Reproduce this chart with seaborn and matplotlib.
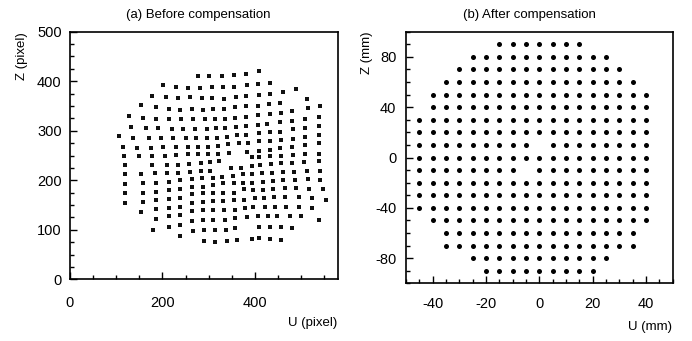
import matplotlib
matplotlib.use("Agg")
import matplotlib.pyplot as plt
from matplotlib.ticker import MultipleLocator
import numpy as np
import pandas as pd
import seaborn as sns

# ---------------- data: (a) before compensation, measured grid points (pixel) ----------------
# each row of the distorted calibration grid, U values then Z values
left_U_rows = [
    [278, 301, 328, 355, 381, 408],
    [201, 229, 256, 281, 307, 332, 355, 384, 406, 433],
    [178, 207, 234, 259, 285, 307, 333, 359, 381, 408, 433, 460, 490],
    [154, 186, 215, 239, 263, 288, 310, 333, 357, 381, 406, 430, 455, 513],
    [128, 157, 187, 215, 241, 267, 292, 314, 336, 357, 381, 406, 432, 457, 480, 515, 542],
    [133, 164, 191, 220, 244, 270, 296, 317, 336, 359, 381, 406, 426, 454, 480, 509, 538],
    [107, 136, 171, 198, 223, 251, 272, 296, 319, 339, 361, 381, 408, 432, 455, 483, 509, 538],
    [115, 144, 176, 201, 229, 256, 278, 299, 321, 343, 365, 386, 408, 432, 457, 483, 509, 538],
    [116, 149, 178, 205, 230, 256, 278, 299, 321, 345, 383, 408, 432, 454, 480, 509, 538],
    [118, 178, 209, 234, 258, 283, 303, 323, 394, 410, 432, 457, 483, 509, 538],
    [118, 154, 183, 209, 234, 259, 283, 304, 348, 370, 394, 412, 435, 457, 480, 507, 538],
    [118, 158, 187, 215, 238, 263, 285, 310, 330, 352, 374, 394, 415, 437, 461, 484, 512, 541],
    [120, 158, 187, 215, 238, 265, 287, 310, 332, 354, 375, 394, 417, 439, 462, 486, 515, 542],
    [120, 158, 187, 215, 238, 265, 287, 310, 332, 355, 377, 396, 417, 439, 466, 490, 517, 548],
    [154, 187, 215, 238, 265, 287, 310, 332, 355, 377, 401, 420, 442, 466, 495, 524, 555],
    [186, 215, 238, 265, 287, 310, 333, 357, 379, 397, 422, 444, 468, 495, 524],
    [180, 215, 239, 265, 287, 310, 336, 357, 383, 406, 428, 449, 477, 499, 538],
    [238, 267, 290, 314, 338, 357, 408, 432, 457, 480],
    [290, 314, 339, 362, 394, 410, 433, 457],
]
left_Z_rows = [
    [410, 410, 410, 413, 415, 420],
    [392, 388, 386, 386, 388, 388, 388, 392, 394, 397],
    [370, 368, 367, 368, 366, 366, 365, 368, 370, 372, 375, 378, 385],
    [351, 347, 343, 341, 343, 341, 343, 343, 347, 349, 349, 353, 356, 365],
    [329, 326, 323, 323, 323, 323, 324, 324, 324, 326, 328, 331, 333, 336, 339, 345, 349],
    [308, 306, 306, 304, 304, 304, 304, 306, 306, 308, 310, 311, 314, 318, 319, 323, 328],
    [289, 285, 285, 285, 285, 285, 285, 285, 285, 287, 291, 292, 295, 298, 298, 303, 306, 310],
    [267, 265, 265, 267, 267, 267, 267, 267, 269, 274, 276, 276, 279, 279, 281, 284, 287, 292],
    [249, 249, 249, 249, 251, 253, 253, 253, 254, 256, 258, 260, 262, 265, 268, 271, 275],
    [231, 231, 231, 231, 233, 234, 236, 238, 246, 246, 248, 249, 251, 253, 254],
    [213, 213, 214, 215, 215, 217, 219, 219, 224, 224, 229, 231, 233, 234, 234, 236, 238],
    [193, 194, 195, 197, 201, 202, 204, 204, 207, 209, 213, 213, 214, 215, 217, 217, 219, 219],
    [174, 175, 177, 180, 182, 186, 187, 191, 194, 194, 194, 195, 197, 199, 201, 201, 202, 201],
    [155, 157, 160, 162, 164, 172, 174, 175, 175, 175, 182, 180, 180, 182, 184, 184, 182, 182],
    [135, 141, 143, 147, 155, 157, 159, 159, 160, 160, 164, 164, 166, 167, 167, 164, 160],
    [121, 127, 130, 137, 139, 140, 140, 140, 143, 145, 147, 147, 147, 147, 143],
    [100, 105, 110, 118, 120, 120, 120, 123, 125, 127, 128, 128, 127, 127, 120],
    [88, 98, 100, 100, 100, 103, 105, 106, 105, 103],
    [78, 76, 78, 79, 81, 83, 81, 79],
]

# ---------------- data: (b) after compensation, grid points (mm) ----------------
right_Z_levels = [90, 80, 70, 60, 50, 40, 30, 20, 10, 0,
                  -10, -20, -30, -40, -50, -60, -70, -80, -90]
right_U_rows = [
    [-15, -10, -5, 0, 5, 10, 15],
    [-25, -20, -15, -10, -5, 0, 5, 10, 15, 20, 25],
    [-30, -25, -20, -15, -10, -5, 0, 5, 10, 15, 20, 25, 30],
    [-35, -30, -25, -20, -15, -10, -5, 0, 5, 10, 15, 20, 25, 30, 35],
    [-40, -35, -30, -25, -20, -15, -10, -5, 0, 5, 10, 15, 20, 25, 30, 35, 40],
    [-40, -35, -30, -25, -20, -15, -10, -5, 0, 5, 10, 15, 20, 25, 30, 35, 40],
    [-45, -40, -35, -30, -25, -20, -15, -10, -5, 0, 5, 10, 15, 20, 25, 30, 35, 40],
    [-45, -40, -35, -30, -25, -20, -15, -10, -5, 0, 5, 10, 15, 20, 25, 30, 35, 40],
    [-45, -40, -35, -30, -25, -20, -15, -10, -5, 5, 10, 15, 20, 25, 30, 35, 40],
    [-45, -40, -35, -30, -25, -20, -15, -10, -5, 0, 5, 10, 15, 20, 25, 30, 35, 40],
    [-45, -40, -35, -30, -25, -20, -15, -10, 0, 5, 10, 15, 20, 25, 30, 35, 40],
    [-45, -40, -35, -30, -25, -20, -15, -10, -5, 0, 5, 10, 15, 20, 25, 30, 35, 40],
    [-45, -40, -35, -30, -25, -20, -15, -10, -5, 0, 5, 10, 15, 20, 25, 30, 35, 40],
    [-45, -40, -35, -30, -25, -20, -15, -10, -5, 0, 5, 10, 15, 20, 25, 30, 35, 40],
    [-40, -35, -30, -25, -20, -15, -10, -5, 0, 5, 10, 15, 20, 25, 30, 35, 40],
    [-35, -30, -25, -20, -15, -10, -5, 0, 5, 10, 15, 20, 25, 30, 35],
    [-35, -30, -25, -20, -15, -10, -5, 0, 5, 10, 15, 20, 25, 30, 35],
    [-25, -20, -15, -10, -5, 0, 5, 10, 15, 20, 25],
    [-20, -15, -10, -5, 0, 5, 10, 15, 20],
]

titles = ["(a) Before compensation", "(b) After compensation"]
xlabels = ["U (pixel)", "U (mm)"]
ylabels = ["Z (pixel)", "Z (mm)"]

# ---------------- build tables ----------------
dfL = pd.DataFrame({
    "U": [u for row in left_U_rows for u in row],
    "Z": [z for row in left_Z_rows for z in row],
})
dfR = pd.DataFrame({
    "U": [u for row in right_U_rows for u in row],
    "Z": [z for z, row in zip(right_Z_levels, right_U_rows) for _ in row],
})

sns.set_style("ticks")
plt.rcParams["font.family"] = ["Liberation Sans", "DejaVu Sans"]
plt.rcParams["axes.unicode_minus"] = False

W, H = 692, 341
fig = plt.figure(figsize=(W / 100, H / 100), dpi=100)
axL = fig.add_axes([70 / W, (H - 279.3) / H, 268 / W, 247.6 / H])
axR = fig.add_axes([406 / W, (H - 283.3) / H, 266.7 / W, 251.6 / H])

sns.scatterplot(data=dfL, x="U", y="Z", ax=axL, marker="s", s=5.5,
                color="#111111", linewidth=0, legend=False)
sns.scatterplot(data=dfR, x="U", y="Z", ax=axR, marker="o", s=13,
                color="black", linewidth=0, legend=False)

axL.set_xlim(0, 580)
axL.set_ylim(0, 500)
axL.xaxis.set_major_locator(MultipleLocator(200))
axL.xaxis.set_minor_locator(MultipleLocator(50))
axL.yaxis.set_major_locator(MultipleLocator(100))
axL.yaxis.set_minor_locator(MultipleLocator(25))

axR.set_xlim(-50, 50)
axR.set_ylim(-100, 100)
axR.xaxis.set_major_locator(MultipleLocator(20))
axR.xaxis.set_minor_locator(MultipleLocator(5))
axR.yaxis.set_major_locator(MultipleLocator(40))
axR.yaxis.set_minor_locator(MultipleLocator(10))

for ax, xpad, ypad in ((axL, 12, 6), (axR, 10, 7)):
    ax.set_xlabel("")
    ax.set_ylabel("")
    for sp in ax.spines.values():
        sp.set_visible(True)
        sp.set_linewidth(1.2)
        sp.set_color("black")
    ax.tick_params(which="both", direction="in", colors="black",
                   labelsize=10.5, width=1)
    ax.tick_params(which="major", length=5)
    ax.tick_params(which="minor", length=3)
    ax.tick_params(axis="x", which="major", pad=xpad)
    ax.tick_params(axis="y", which="major", pad=ypad)

def ftext(x, y, s, **kw):
    fig.text(x / W, 1 - y / H, s, fontsize=9.5, color="black", **kw)

ftext(198, 15, titles[0], ha="center", va="center")
ftext(529, 15, titles[1], ha="center", va="center")
ftext(337, 323, xlabels[0], ha="right", va="center")
ftext(672, 327, xlabels[1], ha="right", va="center")
ftext(22, 32, ylabels[0], ha="center", va="top", rotation=90)
ftext(367, 32, ylabels[1], ha="center", va="top", rotation=90)

fig.savefig("out.png", dpi=100)
